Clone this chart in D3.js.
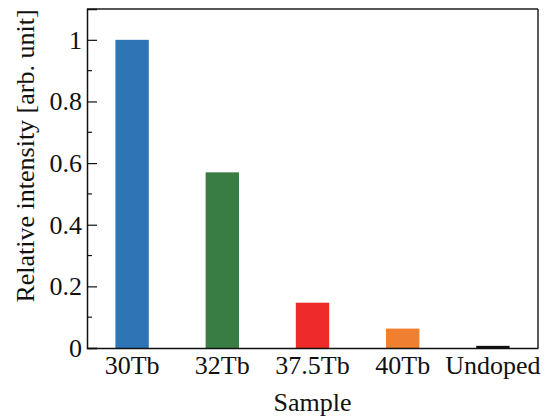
<!DOCTYPE html>
<html>
<head>
<meta charset="utf-8">
<script src="https://cdn.jsdelivr.net/npm/d3@7"></script>
<style>
  body { margin: 0; background: #fff; }
  svg text { font-family: "Liberation Serif", "Times New Roman", serif; fill: #111; }
</style>
</head>
<body>
<svg width="549" height="419"></svg>
<script>
// Samples and their relative intensity
const samples = ["30Tb", "32Tb", "37.5Tb", "40Tb", "Undoped"];
const intensity = [1.0, 0.57, 0.147, 0.063, 0.007];
const barColors = ["#2e75b6", "#3a7d44", "#ee2a2a", "#f08030", "#111111"];
const yTicks = [0, 0.2, 0.4, 0.6, 0.8, 1];

const margin = {top: 9, right: 11, bottom: 71, left: 87};
const width = 549, height = 419;
const fs = 26;

const svg = d3.select("svg");

const x = d3.scaleBand()
    .domain(samples)
    .range([margin.left, width - margin.right])
    .paddingInner(0.63)
    .paddingOuter(0.315);

const y = d3.scaleLinear()
    .domain([0, 1.1])
    .range([height - margin.bottom, margin.top]);

// bars
svg.append("g")
  .selectAll("rect")
  .data(samples)
  .join("rect")
    .attr("x", d => x(d))
    .attr("width", x.bandwidth())
    .attr("y", (d, i) => y(intensity[i]))
    .attr("height", (d, i) => y(0) - y(intensity[i]))
    .attr("fill", (d, i) => barColors[i]);

// frame: top and right
svg.append("line")
    .attr("x1", margin.left).attr("x2", width - margin.right)
    .attr("y1", margin.top).attr("y2", margin.top)
    .attr("stroke", "#555").attr("stroke-width", 2);
svg.append("line")
    .attr("x1", width - margin.right).attr("x2", width - margin.right)
    .attr("y1", margin.top).attr("y2", y(0))
    .attr("stroke", "#222").attr("stroke-width", 1.5);

// y axis, ticks inward
const yAxis = svg.append("g")
    .attr("transform", `translate(${margin.left},0)`)
    .call(d3.axisRight(y).tickValues(yTicks).tickSize(10).tickFormat(d => d3.format("")(d)));
yAxis.select(".domain").attr("stroke", "#111").attr("stroke-width", 1.5);
yAxis.selectAll(".tick line").attr("stroke", "#111").attr("stroke-width", 1.2);
yAxis.selectAll(".tick text")
    .attr("x", -5)
    .attr("text-anchor", "end")
    .attr("font-size", fs);

// minor ticks
svg.append("g")
  .selectAll("line")
  .data(d3.range(0.1, 1.1, 0.2))
  .join("line")
    .attr("x1", margin.left).attr("x2", margin.left + 5)
    .attr("y1", d => y(d)).attr("y2", d => y(d))
    .attr("stroke", "#111").attr("stroke-width", 1.2);

// x axis, labels only
const xAxis = svg.append("g")
    .attr("transform", `translate(0,${y(0)})`)
    .call(d3.axisBottom(x).tickSize(0).tickPadding(8));
xAxis.select(".domain").attr("stroke", "#111").attr("stroke-width", 1.5);
xAxis.selectAll(".tick text").attr("font-size", fs);

// axis titles
svg.append("text")
    .attr("x", (margin.left + width - margin.right) / 2)
    .attr("y", 411)
    .attr("text-anchor", "middle")
    .attr("font-size", fs)
    .text("Sample");

svg.append("text")
    .attr("transform", "translate(34,156) rotate(-90)")
    .attr("text-anchor", "middle")
    .attr("font-size", fs)
    .text("Relative intensity [arb. unit]");
</script>
</body>
</html>
